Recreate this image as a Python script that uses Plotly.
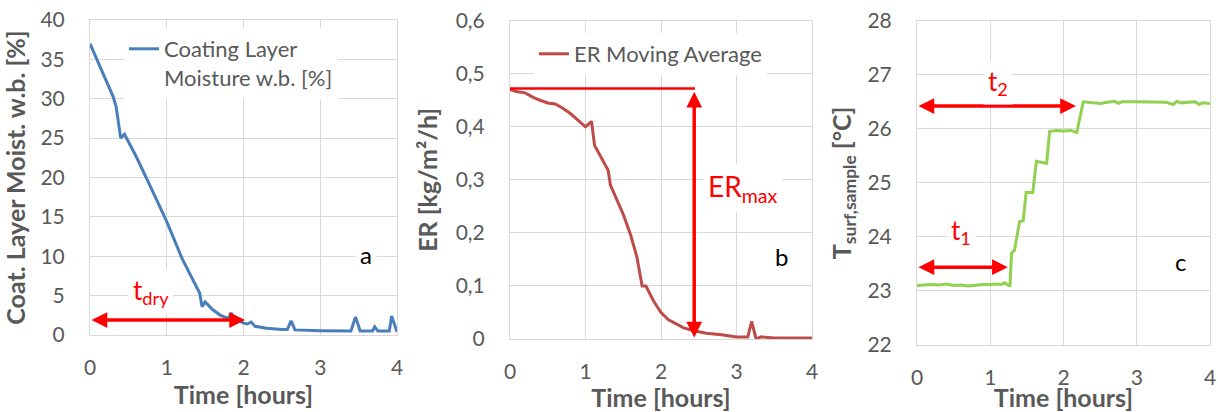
import plotly.graph_objects as go

# ---------------- data ----------------
time_a = [0, 0.1, 0.2, 0.3, 0.34, 0.4, 0.45, 0.5, 0.6, 0.8, 1.0, 1.2, 1.4, 1.43, 1.46, 1.5,
          1.6, 1.7, 1.8, 1.84, 1.88, 2.0, 2.05, 2.1, 2.15, 2.3, 2.5, 2.57, 2.62, 2.67, 3.0,
          3.4, 3.46, 3.52, 3.68, 3.71, 3.75, 3.9, 3.93, 4.0]
moist_a = [37.0, 34.7, 32.4, 30.3, 29.0, 25.0, 25.5, 24.6, 22.7, 18.6, 14.4, 9.7, 5.9, 5.3, 3.6, 4.2,
           3.2, 2.5, 2.1, 2.8, 2.1, 1.5, 1.4, 1.65, 1.1, 0.85, 0.7, 0.7, 1.8, 0.65, 0.55,
           0.5, 2.3, 0.5, 0.5, 1.05, 0.5, 0.5, 2.4, 0.4]

time_b = [0, 0.1, 0.2, 0.3, 0.4, 0.5, 0.6, 0.7, 0.8, 0.9, 1.0, 1.04, 1.08, 1.12, 1.2, 1.28, 1.3,
          1.33, 1.4, 1.5, 1.6, 1.68, 1.75, 1.8, 1.9, 2.0, 2.1, 2.2, 2.3, 2.45, 2.6, 2.8, 3.0,
          3.15, 3.2, 3.26, 3.33, 3.5, 3.7, 3.8, 4.0]
er_b = [0.470, 0.466, 0.464, 0.456, 0.450, 0.445, 0.443, 0.435, 0.425, 0.412, 0.400, 0.405,
        0.410, 0.365, 0.344, 0.322, 0.318, 0.290, 0.268, 0.235, 0.195, 0.155, 0.100, 0.100,
        0.072, 0.050, 0.036, 0.028, 0.021, 0.015, 0.011, 0.008, 0.004, 0.004, 0.033, 0.000,
        0.004, 0.002, 0.002, 0.003, 0.002]

time_c = [0, 0.1, 0.2, 0.3, 0.4, 0.5, 0.6, 0.7, 0.8, 0.9, 1.0, 1.1, 1.15, 1.2, 1.25, 1.27,
          1.29, 1.33, 1.4, 1.45, 1.49, 1.58, 1.63, 1.7, 1.77, 1.81, 1.9, 2.0, 2.1, 2.18, 2.27,
          2.4, 2.5, 2.6, 2.7, 2.75, 2.8, 3.0, 3.2, 3.4, 3.5, 3.55, 3.6, 3.8, 3.85, 3.9, 4.0]
temp_c = [23.10, 23.11, 23.12, 23.11, 23.13, 23.10, 23.11, 23.09, 23.11, 23.12, 23.12, 23.13,
          23.12, 23.15, 23.10, 23.10, 23.70, 23.75, 24.28, 24.30, 24.82, 24.82, 25.40, 25.38,
          25.36, 25.95, 25.97, 25.96, 25.97, 25.93, 26.50, 26.48, 26.47, 26.49, 26.51, 26.47,
          26.50, 26.50, 26.50, 26.49, 26.45, 26.51, 26.48, 26.50, 26.45, 26.48, 26.47]

# annotation arrows (start x, end x, level)
tdry_arrow = [0, 2.02, 1.9]
ermax_hline = [0, 2.45, 0.472]
ermax_arrow = [2.44, 0.466, 0.0]
t1_arrow = [0, 1.24, 23.44]
t2_arrow = [0, 2.17, 26.42]

# ---------------- style ----------------
FONT = "Lato"
TXT = "#595959"
GRID = "#d9d9d9"
RED = "#ff0000"

fig = go.Figure()
fig.add_trace(go.Scatter(x=time_a, y=moist_a, mode="lines", xaxis="x", yaxis="y",
                         name="Coating Layer<br>Moisture w.b. [%]",
                         line=dict(color="#4a7ebb", width=3), legend="legend"))
fig.add_trace(go.Scatter(x=time_b, y=er_b, mode="lines", xaxis="x2", yaxis="y2",
                         name="ER Moving Average",
                         line=dict(color="#be4b48", width=3), legend="legend2"))
fig.add_trace(go.Scatter(x=time_c, y=temp_c, mode="lines", xaxis="x3", yaxis="y3",
                         name="T surf", showlegend=False,
                         line=dict(color="#92d050", width=3)))


def xax(domain, anchor):
    return dict(domain=domain, anchor=anchor, range=[0, 4], dtick=1, tick0=0,
                automargin=False,
                showgrid=True, gridcolor=GRID, gridwidth=1, zeroline=False,
                showline=True, linecolor=GRID, linewidth=1, mirror=True, ticks="",
                ticklabelstandoff=14,
                tickfont=dict(family=FONT, size=21, color=TXT),
                title=dict(text="<b>Time [hours]</b>", standoff=2,
                           font=dict(family=FONT, size=25, color=TXT)))


def yax(domain, anchor, rng, dtick, title, standoff):
    return dict(domain=domain, anchor=anchor, range=rng, dtick=dtick,
                automargin=False,
                showgrid=True, gridcolor=GRID, gridwidth=1, zeroline=False,
                showline=True, linecolor=GRID, linewidth=1, mirror=True, ticks="",
                ticklabelstandoff=20,
                tickfont=dict(family=FONT, size=21, color=TXT),
                title=dict(text=title, standoff=standoff,
                           font=dict(family=FONT, size=25, color=TXT)))


W, H = 1218, 412
fig.update_layout(
    width=W, height=H, autosize=False,
    margin=dict(l=0, r=0, t=0, b=0),
    paper_bgcolor="white", plot_bgcolor="white",
    separators=", ",
    font=dict(family=FONT, color=TXT),
    xaxis=xax([90 / W, 397 / W], "y"),
    yaxis=yax([(H - 335) / H, (H - 20) / H], "x", [0, 40], 5,
              "<b>Coat. Layer Moist. w.b. [%]</b>", 10),
    xaxis2=xax([510 / W, 812 / W], "y2"),
    yaxis2=yax([(H - 339) / H, (H - 20.7) / H], "x2", [0, 0.6], 0.1,
               "<b>ER [kg/m²/h]</b>", 10),
    xaxis3=xax([917 / W, 1210 / W], "y3"),
    yaxis3=yax([(H - 345) / H, (H - 20.7) / H], "x3", [22, 28], 1,
               "<b>T<sub>surf,sample</sub> [°C]</b>", 8),
    legend=dict(x=124 / W, y=(H - 28) / H, xanchor="left", yanchor="top",
                bgcolor="white", borderwidth=0, valign="top",
                font=dict(family=FONT, size=22, color=TXT)),
    legend2=dict(x=534 / W, y=(H - 33) / H, xanchor="left", yanchor="top",
                 bgcolor="white", borderwidth=0,
                 font=dict(family=FONT, size=22, color=TXT)),
    showlegend=True,
)

annotations = []


def darrow(xref, yref, x0, y0, x1, y1):
    annotations.append(dict(xref=xref, yref=yref, axref=xref, ayref=yref,
                            x=x1, y=y1, ax=x0, ay=y0, text="", showarrow=True,
                            arrowside="end+start", arrowhead=2, startarrowhead=2,
                            arrowsize=0.9, startarrowsize=0.9, arrowwidth=3.5,
                            arrowcolor=RED, standoff=0, startstandoff=0))


darrow("x", "y", tdry_arrow[0], tdry_arrow[2], tdry_arrow[1], tdry_arrow[2])
darrow("x2", "y2", ermax_arrow[0], ermax_arrow[2], ermax_arrow[0], ermax_arrow[1])
darrow("x3", "y3", t1_arrow[0], t1_arrow[2], t1_arrow[1], t1_arrow[2])
darrow("x3", "y3", t2_arrow[0], t2_arrow[2], t2_arrow[1], t2_arrow[2])


def label(xref, yref, x, y, text, color, size):
    annotations.append(dict(xref=xref, yref=yref, x=x, y=y, text=text, showarrow=False,
                            bgcolor="white", borderpad=4,
                            font=dict(family=FONT, size=size, color=color)))


label("x", "y", 0.8, 5.5, "t<sub>dry</sub>", RED, 26)
label("x", "y", 3.6, 10.2, "a", "black", 24)
label("x2", "y2", 3.08, 0.285, "ER<sub>max</sub>", RED, 28)
label("x2", "y2", 3.6, 0.155, "b", "black", 24)
label("x3", "y3", 0.6, 24.1, "t<sub>1</sub>", RED, 26)
label("x3", "y3", 1.1, 26.85, "t<sub>2</sub>", RED, 26)
label("x3", "y3", 3.6, 23.55, "c", "black", 24)

fig.update_layout(annotations=annotations)
fig.add_shape(type="line", xref="x2", yref="y2", x0=ermax_hline[0], x1=ermax_hline[1],
              y0=ermax_hline[2], y1=ermax_hline[2], line=dict(color=RED, width=2.5),
              layer="above")

fig.write_html("out.html")
